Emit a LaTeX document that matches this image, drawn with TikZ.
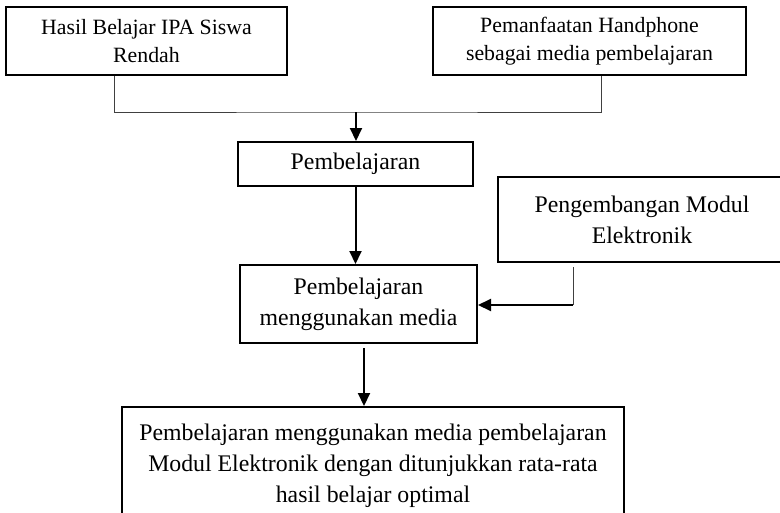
\documentclass[tikz,border=0pt]{standalone}
\usepackage{fontspec}
\setmainfont{Liberation Serif}
\usetikzlibrary{arrows.meta,calc}

\begin{document}
\begin{tikzpicture}[x=1pt,y=-1pt,
    box/.style={draw,line width=2pt,align=center,inner sep=0pt},
    small/.style={font=\fontsize{21.8}{28}\selectfont},
    big/.style={font=\fontsize{23.8}{31}\selectfont},
    link/.style={line width=1pt,draw=black!75},
    flow/.style={line width=2pt,-{Triangle[length=13pt,width=12pt]}}]
  \useasboundingbox (0,0) rectangle (780,512);
  \clip (0,0) rectangle (780,512);

  % boxes
  \node[box,small,minimum width=281pt,minimum height=68pt] (hasil) at (146.5,41)
    {Hasil Belajar IPA Siswa\\Rendah};
  \node[box,small,minimum width=313pt,minimum height=68pt] (hp) at (589.5,41)
    {Pemanfaatan Handphone\\sebagai media pembelajaran};
  \node[box,big,minimum width=235pt,minimum height=44pt] (belajar) at (355.5,164)
    {Pembelajaran};
  \node[box,big,minimum width=288pt,minimum height=85pt] (modul) at (642,219.5)
    {Pengembangan Modul\\Elektronik};
  \node[box,big,minimum width=237pt,minimum height=78pt] (media) at (358.5,304)
    {Pembelajaran\\menggunakan media};
  \node[box,big,minimum width=502pt,minimum height=117pt] (akhir) at (373,465.5)
    {Pembelajaran menggunakan media pembelajaran\\Modul Elektronik dengan ditunjukkan rata-rata\\hasil belajar optimal};

  % connectors
  \coordinate (join) at (356,112);
  \draw[link] ([xshift=-32.5pt]hasil.south) |- (join) -| ([xshift=11.5pt]hp.south);
  \draw[flow] (join) -- (join |- belajar.north);
  \draw[flow] (belajar.south) -- (belajar.south |- media.north);
  \coordinate (bend) at ($(modul.south)+(-69,42)$);
  \draw[link] ([xshift=-69pt,yshift=-4pt]modul.south) -- (bend);
  \draw[flow] (bend) -- (bend -| media.east);
  \draw[flow] ([xshift=5.5pt,yshift=-4pt]media.south) -- ([xshift=5.5pt]media.south |- akhir.north);
\end{tikzpicture}
\end{document}
